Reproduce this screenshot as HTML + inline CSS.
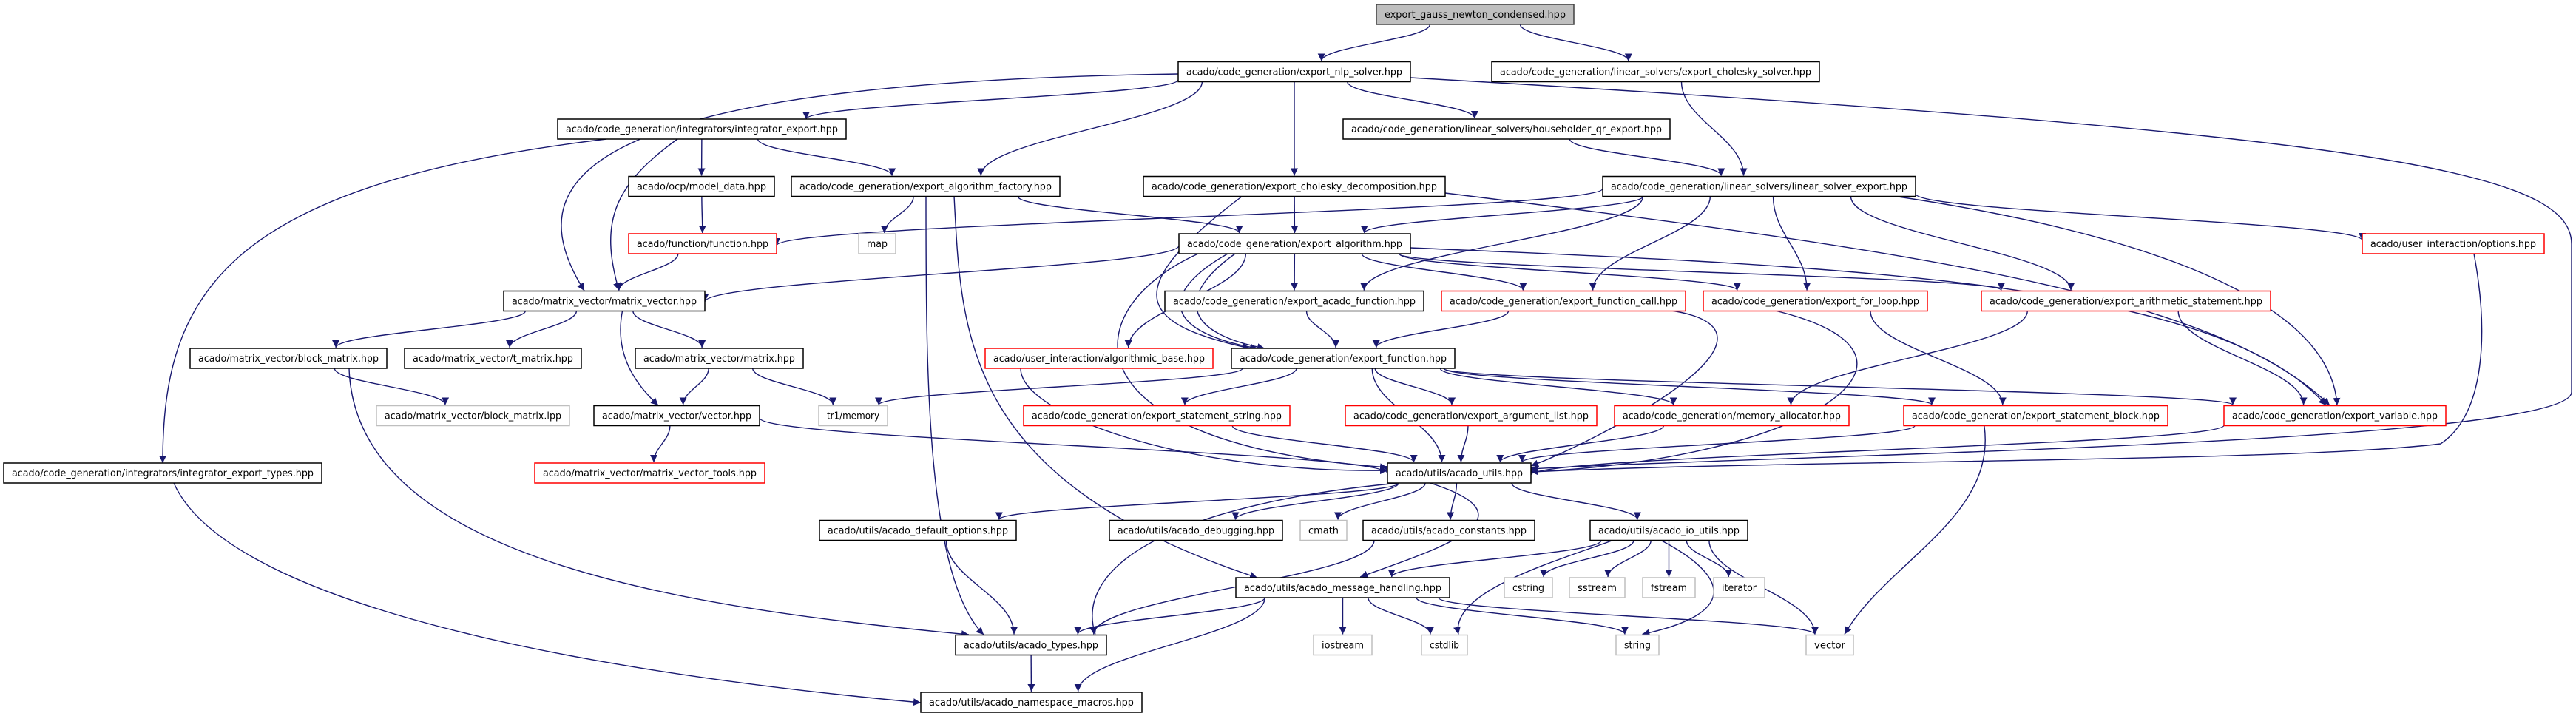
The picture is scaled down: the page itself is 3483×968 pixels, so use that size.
<!DOCTYPE html>
<html><head><meta charset="utf-8">
<style>
html,body{margin:0;padding:0;background:#fff;}
svg{display:block;}
text{font-family:"DejaVu Sans","Liberation Sans",sans-serif;font-size:13.5px;fill:#000;}
</style></head>
<body>
<svg id="g" width="3483" height="968" viewBox="0 0 3483 968" xmlns="http://www.w3.org/2000/svg">
<defs>
<marker id="ah" viewBox="0 0 10 10" refX="10" refY="5" markerWidth="10" markerHeight="10" markerUnits="userSpaceOnUse" orient="auto">
<path d="M0,0 L10,5 L0,10 z" fill="#191970"/>
</marker>
</defs>
<g id="edges" fill="none" stroke="#191970" stroke-width="1.4"></g>
<g id="nodes">
<rect x="1861" y="6" width="267" height="27" fill="#bfbfbf" stroke="#404040" stroke-width="1.5"/><text x="1994.5" y="24" text-anchor="middle" textLength="245" lengthAdjust="spacingAndGlyphs">export_gauss_newton_condensed.hpp</text>
<rect x="1593" y="83.5" width="314" height="27" fill="#fff" stroke="#000" stroke-width="1.5"/><text x="1750" y="101.5" text-anchor="middle" textLength="292" lengthAdjust="spacingAndGlyphs">acado/code_generation/export_nlp_solver.hpp</text>
<rect x="2017" y="83.5" width="443" height="27" fill="#fff" stroke="#000" stroke-width="1.5"/><text x="2238.5" y="101.5" text-anchor="middle" textLength="421" lengthAdjust="spacingAndGlyphs">acado/code_generation/linear_solvers/export_cholesky_solver.hpp</text>
<rect x="754" y="161" width="390" height="27" fill="#fff" stroke="#000" stroke-width="1.5"/><text x="949" y="179" text-anchor="middle" textLength="368" lengthAdjust="spacingAndGlyphs">acado/code_generation/integrators/integrator_export.hpp</text>
<rect x="1816" y="161" width="442" height="27" fill="#fff" stroke="#000" stroke-width="1.5"/><text x="2037" y="179" text-anchor="middle" textLength="420" lengthAdjust="spacingAndGlyphs">acado/code_generation/linear_solvers/householder_qr_export.hpp</text>
<rect x="850" y="238.5" width="197" height="27" fill="#fff" stroke="#000" stroke-width="1.5"/><text x="948.5" y="256.5" text-anchor="middle" textLength="175" lengthAdjust="spacingAndGlyphs">acado/ocp/model_data.hpp</text>
<rect x="1070" y="238.5" width="363" height="27" fill="#fff" stroke="#000" stroke-width="1.5"/><text x="1251.5" y="256.5" text-anchor="middle" textLength="341" lengthAdjust="spacingAndGlyphs">acado/code_generation/export_algorithm_factory.hpp</text>
<rect x="1546" y="238.5" width="408" height="27" fill="#fff" stroke="#000" stroke-width="1.5"/><text x="1750" y="256.5" text-anchor="middle" textLength="386" lengthAdjust="spacingAndGlyphs">acado/code_generation/export_cholesky_decomposition.hpp</text>
<rect x="2167" y="238.5" width="423" height="27" fill="#fff" stroke="#000" stroke-width="1.5"/><text x="2378.5" y="256.5" text-anchor="middle" textLength="401" lengthAdjust="spacingAndGlyphs">acado/code_generation/linear_solvers/linear_solver_export.hpp</text>
<rect x="850" y="316" width="200" height="27" fill="#fff" stroke="#ff0000" stroke-width="1.5"/><text x="950" y="334" text-anchor="middle" textLength="178" lengthAdjust="spacingAndGlyphs">acado/function/function.hpp</text>
<rect x="1161" y="316" width="50" height="27" fill="#fff" stroke="#bfbfbf" stroke-width="1.5"/><text x="1186" y="334" text-anchor="middle" textLength="28" lengthAdjust="spacingAndGlyphs">map</text>
<rect x="1594" y="316" width="313" height="27" fill="#fff" stroke="#000" stroke-width="1.5"/><text x="1750.5" y="334" text-anchor="middle" textLength="291" lengthAdjust="spacingAndGlyphs">acado/code_generation/export_algorithm.hpp</text>
<rect x="3194" y="316" width="246" height="27" fill="#fff" stroke="#ff0000" stroke-width="1.5"/><text x="3317" y="334" text-anchor="middle" textLength="224" lengthAdjust="spacingAndGlyphs">acado/user_interaction/options.hpp</text>
<rect x="681" y="393.5" width="272" height="27" fill="#fff" stroke="#000" stroke-width="1.5"/><text x="817" y="411.5" text-anchor="middle" textLength="250" lengthAdjust="spacingAndGlyphs">acado/matrix_vector/matrix_vector.hpp</text>
<rect x="1575" y="393.5" width="350" height="27" fill="#fff" stroke="#000" stroke-width="1.5"/><text x="1750" y="411.5" text-anchor="middle" textLength="328" lengthAdjust="spacingAndGlyphs">acado/code_generation/export_acado_function.hpp</text>
<rect x="1949" y="393.5" width="330" height="27" fill="#fff" stroke="#ff0000" stroke-width="1.5"/><text x="2114" y="411.5" text-anchor="middle" textLength="308" lengthAdjust="spacingAndGlyphs">acado/code_generation/export_function_call.hpp</text>
<rect x="2303" y="393.5" width="303" height="27" fill="#fff" stroke="#ff0000" stroke-width="1.5"/><text x="2454.5" y="411.5" text-anchor="middle" textLength="281" lengthAdjust="spacingAndGlyphs">acado/code_generation/export_for_loop.hpp</text>
<rect x="2679" y="393.5" width="391" height="27" fill="#fff" stroke="#ff0000" stroke-width="1.5"/><text x="2874.5" y="411.5" text-anchor="middle" textLength="369" lengthAdjust="spacingAndGlyphs">acado/code_generation/export_arithmetic_statement.hpp</text>
<rect x="257" y="471" width="266" height="27" fill="#fff" stroke="#000" stroke-width="1.5"/><text x="390" y="489" text-anchor="middle" textLength="244" lengthAdjust="spacingAndGlyphs">acado/matrix_vector/block_matrix.hpp</text>
<rect x="547" y="471" width="239" height="27" fill="#fff" stroke="#000" stroke-width="1.5"/><text x="666.5" y="489" text-anchor="middle" textLength="217" lengthAdjust="spacingAndGlyphs">acado/matrix_vector/t_matrix.hpp</text>
<rect x="859" y="471" width="227" height="27" fill="#fff" stroke="#000" stroke-width="1.5"/><text x="972.5" y="489" text-anchor="middle" textLength="205" lengthAdjust="spacingAndGlyphs">acado/matrix_vector/matrix.hpp</text>
<rect x="1332" y="471" width="308" height="27" fill="#fff" stroke="#ff0000" stroke-width="1.5"/><text x="1486" y="489" text-anchor="middle" textLength="286" lengthAdjust="spacingAndGlyphs">acado/user_interaction/algorithmic_base.hpp</text>
<rect x="1665" y="471" width="302" height="27" fill="#fff" stroke="#000" stroke-width="1.5"/><text x="1816" y="489" text-anchor="middle" textLength="280" lengthAdjust="spacingAndGlyphs">acado/code_generation/export_function.hpp</text>
<rect x="509" y="548.5" width="261" height="27" fill="#fff" stroke="#bfbfbf" stroke-width="1.5"/><text x="639.5" y="566.5" text-anchor="middle" textLength="239" lengthAdjust="spacingAndGlyphs">acado/matrix_vector/block_matrix.ipp</text>
<rect x="803" y="548.5" width="224" height="27" fill="#fff" stroke="#000" stroke-width="1.5"/><text x="915" y="566.5" text-anchor="middle" textLength="202" lengthAdjust="spacingAndGlyphs">acado/matrix_vector/vector.hpp</text>
<rect x="1107" y="548.5" width="93" height="27" fill="#fff" stroke="#bfbfbf" stroke-width="1.5"/><text x="1153.5" y="566.5" text-anchor="middle" textLength="71" lengthAdjust="spacingAndGlyphs">tr1/memory</text>
<rect x="1384" y="548.5" width="360" height="27" fill="#fff" stroke="#ff0000" stroke-width="1.5"/><text x="1564" y="566.5" text-anchor="middle" textLength="338" lengthAdjust="spacingAndGlyphs">acado/code_generation/export_statement_string.hpp</text>
<rect x="1819" y="548.5" width="340" height="27" fill="#fff" stroke="#ff0000" stroke-width="1.5"/><text x="1989" y="566.5" text-anchor="middle" textLength="318" lengthAdjust="spacingAndGlyphs">acado/code_generation/export_argument_list.hpp</text>
<rect x="2183" y="548.5" width="317" height="27" fill="#fff" stroke="#ff0000" stroke-width="1.5"/><text x="2341.5" y="566.5" text-anchor="middle" textLength="295" lengthAdjust="spacingAndGlyphs">acado/code_generation/memory_allocator.hpp</text>
<rect x="2574" y="548.5" width="357" height="27" fill="#fff" stroke="#ff0000" stroke-width="1.5"/><text x="2752.5" y="566.5" text-anchor="middle" textLength="335" lengthAdjust="spacingAndGlyphs">acado/code_generation/export_statement_block.hpp</text>
<rect x="3007" y="548.5" width="300" height="27" fill="#fff" stroke="#ff0000" stroke-width="1.5"/><text x="3157" y="566.5" text-anchor="middle" textLength="278" lengthAdjust="spacingAndGlyphs">acado/code_generation/export_variable.hpp</text>
<rect x="5" y="626" width="430" height="27" fill="#fff" stroke="#000" stroke-width="1.5"/><text x="220" y="644" text-anchor="middle" textLength="408" lengthAdjust="spacingAndGlyphs">acado/code_generation/integrators/integrator_export_types.hpp</text>
<rect x="723" y="626" width="311" height="27" fill="#fff" stroke="#ff0000" stroke-width="1.5"/><text x="878.5" y="644" text-anchor="middle" textLength="289" lengthAdjust="spacingAndGlyphs">acado/matrix_vector/matrix_vector_tools.hpp</text>
<rect x="1876" y="626" width="194" height="27" fill="#fff" stroke="#000" stroke-width="1.5"/><text x="1973" y="644" text-anchor="middle" textLength="172" lengthAdjust="spacingAndGlyphs">acado/utils/acado_utils.hpp</text>
<rect x="1108" y="703.5" width="266" height="27" fill="#fff" stroke="#000" stroke-width="1.5"/><text x="1241" y="721.5" text-anchor="middle" textLength="244" lengthAdjust="spacingAndGlyphs">acado/utils/acado_default_options.hpp</text>
<rect x="1500" y="703.5" width="234" height="27" fill="#fff" stroke="#000" stroke-width="1.5"/><text x="1617" y="721.5" text-anchor="middle" textLength="212" lengthAdjust="spacingAndGlyphs">acado/utils/acado_debugging.hpp</text>
<rect x="1758" y="703.5" width="63" height="27" fill="#fff" stroke="#bfbfbf" stroke-width="1.5"/><text x="1789.5" y="721.5" text-anchor="middle" textLength="41" lengthAdjust="spacingAndGlyphs">cmath</text>
<rect x="1843" y="703.5" width="232" height="27" fill="#fff" stroke="#000" stroke-width="1.5"/><text x="1959" y="721.5" text-anchor="middle" textLength="210" lengthAdjust="spacingAndGlyphs">acado/utils/acado_constants.hpp</text>
<rect x="2150" y="703.5" width="213" height="27" fill="#fff" stroke="#000" stroke-width="1.5"/><text x="2256.5" y="721.5" text-anchor="middle" textLength="191" lengthAdjust="spacingAndGlyphs">acado/utils/acado_io_utils.hpp</text>
<rect x="1671" y="781" width="289" height="27" fill="#fff" stroke="#000" stroke-width="1.5"/><text x="1815.5" y="799" text-anchor="middle" textLength="267" lengthAdjust="spacingAndGlyphs">acado/utils/acado_message_handling.hpp</text>
<rect x="2034" y="781" width="65" height="27" fill="#fff" stroke="#bfbfbf" stroke-width="1.5"/><text x="2066.5" y="799" text-anchor="middle" textLength="43" lengthAdjust="spacingAndGlyphs">cstring</text>
<rect x="2122" y="781" width="75" height="27" fill="#fff" stroke="#bfbfbf" stroke-width="1.5"/><text x="2159.5" y="799" text-anchor="middle" textLength="53" lengthAdjust="spacingAndGlyphs">sstream</text>
<rect x="2221" y="781" width="71" height="27" fill="#fff" stroke="#bfbfbf" stroke-width="1.5"/><text x="2256.5" y="799" text-anchor="middle" textLength="49" lengthAdjust="spacingAndGlyphs">fstream</text>
<rect x="2317" y="781" width="69" height="27" fill="#fff" stroke="#bfbfbf" stroke-width="1.5"/><text x="2351.5" y="799" text-anchor="middle" textLength="47" lengthAdjust="spacingAndGlyphs">iterator</text>
<rect x="1292" y="858.5" width="204" height="27" fill="#fff" stroke="#000" stroke-width="1.5"/><text x="1394" y="876.5" text-anchor="middle" textLength="182" lengthAdjust="spacingAndGlyphs">acado/utils/acado_types.hpp</text>
<rect x="1776" y="858.5" width="79" height="27" fill="#fff" stroke="#bfbfbf" stroke-width="1.5"/><text x="1815.5" y="876.5" text-anchor="middle" textLength="57" lengthAdjust="spacingAndGlyphs">iostream</text>
<rect x="1922" y="858.5" width="62" height="27" fill="#fff" stroke="#bfbfbf" stroke-width="1.5"/><text x="1953" y="876.5" text-anchor="middle" textLength="40" lengthAdjust="spacingAndGlyphs">cstdlib</text>
<rect x="2185" y="858.5" width="58" height="27" fill="#fff" stroke="#bfbfbf" stroke-width="1.5"/><text x="2214" y="876.5" text-anchor="middle" textLength="36" lengthAdjust="spacingAndGlyphs">string</text>
<rect x="2442" y="858.5" width="64" height="27" fill="#fff" stroke="#bfbfbf" stroke-width="1.5"/><text x="2474" y="876.5" text-anchor="middle" textLength="42" lengthAdjust="spacingAndGlyphs">vector</text>
<rect x="1245" y="936" width="299" height="27" fill="#fff" stroke="#000" stroke-width="1.5"/><text x="1394.5" y="954" text-anchor="middle" textLength="277" lengthAdjust="spacingAndGlyphs">acado/utils/acado_namespace_macros.hpp</text>
</g>
</svg>
<script>
(function(){
var N={
gauss:[1861,2128,0],nlp:[1593,1907,1],chs:[2017,2460,1],integ:[754,1144,2],house:[1816,2258,2],
model:[850,1047,3],fact:[1070,1433,3],chd:[1546,1954,3],lse:[2167,2590,3],
func:[850,1050,4],map:[1161,1211,4],alg:[1594,1907,4],opt:[3194,3440,4],
mv:[681,953,5],acf:[1575,1925,5],fc:[1949,2279,5],fl:[2303,2606,5],ar:[2679,3070,5],
bm:[257,523,6],tm:[547,786,6],mat:[859,1086,6],ab:[1332,1640,6],ef:[1665,1967,6],
bmi:[509,770,7],vec:[803,1027,7],tr1:[1107,1200,7],ss:[1384,1744,7],al:[1819,2159,7],ma:[2183,2500,7],sb:[2574,2931,7],ev:[3007,3307,7],
iet:[5,435,8],mvt:[723,1034,8],au:[1876,2070,8],
dop:[1108,1374,9],dbg:[1500,1734,9],cm:[1758,1821,9],cst:[1843,2075,9],io:[2150,2363,9],
msg:[1671,1960,10],cs:[2034,2099,10],ssm:[2122,2197,10],fs:[2221,2292,10],it:[2317,2386,10],
ty:[1292,1496,11],ios:[1776,1855,11],cl:[1922,1984,11],str:[2185,2243,11],vc:[2442,2506,11],
ns:[1245,1544,12]};
function rowTop(r){return 6+77.5*r;}
var E=[
["gauss","nlp"],["gauss","chs"],
["nlp","integ",null,[1090,161],[1593,108]],
["nlp","mv",[760,112,700,250],[790,393],[1593,100]],
["nlp","fact"],["nlp","chd"],["nlp","house"],
["nlp","au","M1907,105 C3200,180 3477,230 3477,330 L3477,530 C3477,600 2400,615 2070,634"],
["chs","lse"],["house","lse"],
["integ","iet",[300,250,220,400],[220,626],[820,188]],
["integ","mv",[830,250,810,300]],["integ","model"],["integ","fact"],
["model","func"],["func","mv"],
["fact","map"],["fact","alg"],["fact","ty",[1252,500,1252,780],[1330,858],[1252,265]],
["fact","msg",[1300,450,1300,650],[1700,781],[1290,265]],
["chd","alg"],["chd","ef",[1500,400,1550,440],[1690,471],[1680,265]],
["chd","ev",[2600,340,3000,400],[3150,548],[1954,261]],
["lse","func",null,[1050,332],[2167,255]],["lse","alg"],["lse","acf"],["lse","fc"],["lse","fl"],["lse","ar"],
["lse","opt",null,[3194,325],[2590,262]],["lse","ev",[2800,300,3150,380],[3160,548],[2560,265]],
["alg","mv",null,[953,408],[1594,332]],["alg","acf"],["alg","fc"],["alg","fl"],["alg","ar"],
["alg","ef",[1560,400,1580,450],[1700,471],[1660,343]],["alg","ef",[1590,400,1600,450],[1710,471],[1670,343]],["alg","ab"],
["alg","au",[1450,420,1440,600],[1876,632],[1620,343]],["alg","ev",[2500,360,3000,380],[3145,548],[1907,335]],
["opt","au","M3345,343 C3365,450 3360,560 3300,600 C3100,625 2400,622 2070,638"],
["mv","bm"],["mv","tm"],["mv","mat"],["mv","vec",[830,480,860,520],[890,548]],
["acf","ef"],["fc","ef"],["fc","au",[2450,450,2150,600],[2070,630],[2260,420]],["fl","sb"],
["fl","au",[2650,480,2450,620],[2070,638],[2400,420]],["ar","ma"],["ar","ev"],
["ab","au",[1380,560,1600,640],[1876,636],[1380,498]],
["bm","bmi"],["bm","ty",[480,750,900,820],[1310,858],[472,498]],
["mat","vec"],["mat","tr1"],
["vec","mvt"],["vec","au",null,[1876,640],[1027,565]],
["ef","tr1"],["ef","ss"],["ef","al"],["ef","ma"],["ef","sb"],["ef","ev"],["ef","au"],
["ss","au"],["al","au"],["ma","au"],["sb","au"],["sb","vc",[2700,700,2550,760]],["ev","au",null,[2070,642],[3007,575]],
["iet","ns",[300,800,700,900],[1245,950],[235,653]],
["au","dop"],["au","dbg"],["au","cm"],["au","cst"],["au","io"],
["au","msg",[2080,700,1950,740]],["au","ty",[1600,680,1450,760]],
["dop","ty"],["cst","ty"],
["io","msg"],["io","cs"],["io","ssm"],["io","fs"],["io","it"],
["io","cl",[2100,760,1960,800]],["io","str",[2340,780,2350,830]],["io","vc"],
["msg","ty"],["msg","ios"],["msg","cl"],["msg","str"],["msg","vc"],["msg","ns"],
["ty","ns"]];
var g=document.getElementById("edges");
var NS="http://www.w3.org/2000/svg";
E.forEach(function(e){
 var a=N[e[0]],b=N[e[1]];
 var ac=(a[0]+a[1])/2,bc=(b[0]+b[1])/2;
 var sx=ac+(bc-ac)*0.25; sx=Math.max(a[0]+15,Math.min(a[1]-15,sx));
 var tx=bc+(ac-bc)*0.15; tx=Math.max(b[0]+12,Math.min(b[1]-12,tx));
 var sy=rowTop(a[2])+27, ty=rowTop(b[2])-1, d;
 if(e[3]){tx=e[3][0];ty=e[3][1];}
 if(e[4]){sx=e[4][0];sy=e[4][1];}
 var v=e[2];
 if(typeof v==="string"){d=v;}
 else if(v&&v.length==4){d="M"+sx+","+sy+" C"+v[0]+","+v[1]+" "+v[2]+","+v[3]+" "+tx+","+ty;}
 else if(v){d="M"+sx+","+sy+" Q"+v[0]+","+v[1]+" "+tx+","+ty;}
 else {var dy=(ty-sy)*0.4; d="M"+sx+","+sy+" C"+sx+","+(sy+dy)+" "+tx+","+(ty-dy)+" "+tx+","+ty;}
 var p=document.createElementNS(NS,"path");
 p.setAttribute("d",d);
 p.setAttribute("marker-end","url(#ah)");
 g.appendChild(p);
});
})();
</script>
</body></html>
